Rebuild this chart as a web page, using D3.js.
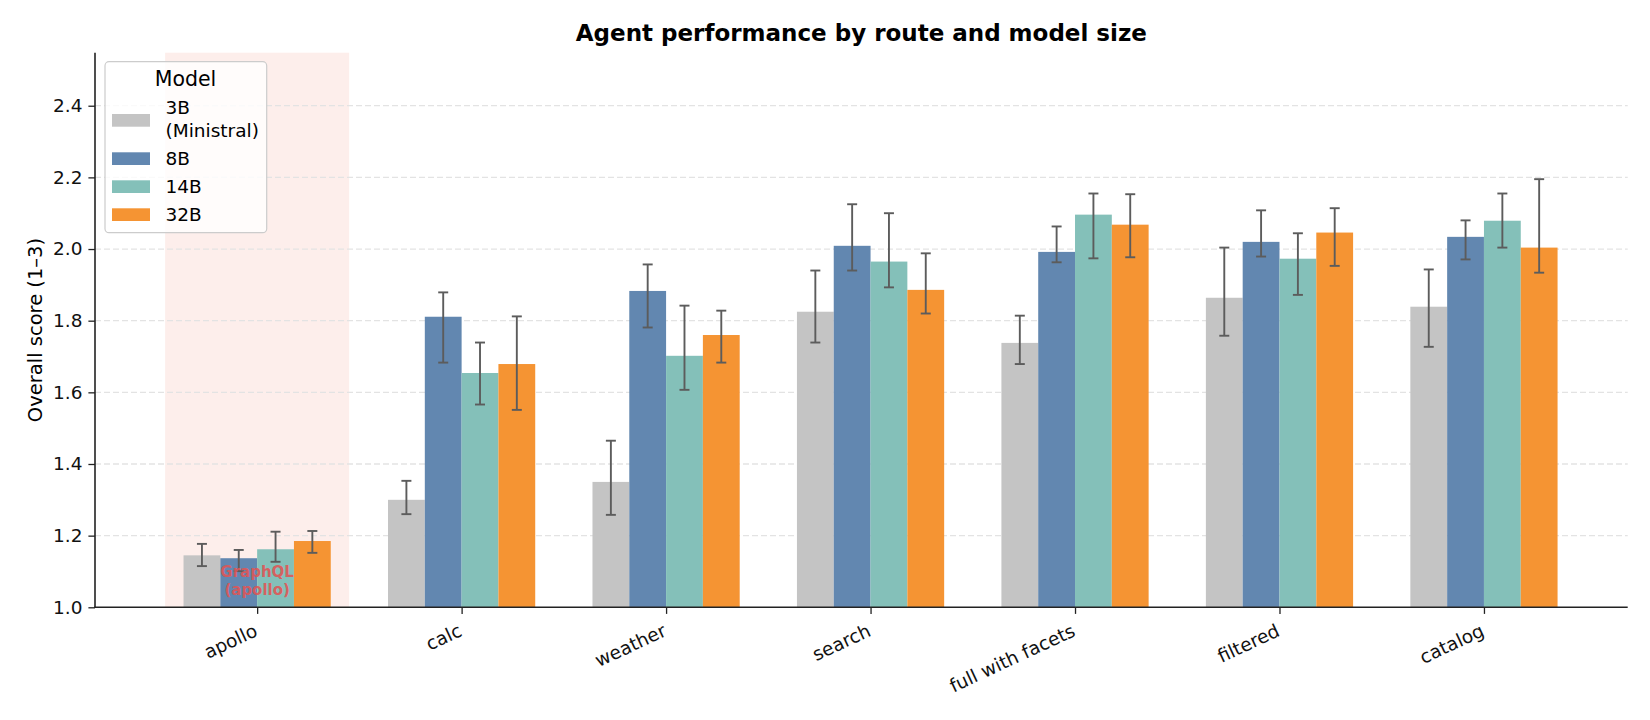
<!DOCTYPE html>
<html>
<head>
<meta charset="utf-8">
<script src="https://cdn.jsdelivr.net/npm/d3@7"></script>
<style>
  body { margin: 0; background: #fff; }
  svg { font-family: "DejaVu Sans", sans-serif; }
</style>
</head>
<body>
<svg id="chart" width="1650" height="720"></svg>
<script>
var routes = ["apollo", "calc", "weather", "search", "full with facets", "filtered", "catalog"];
var models = ["3B", "8B", "14B", "32B"];
var modelLabels = [["3B", "(Ministral)"], ["8B"], ["14B"], ["32B"]];
var modelColors = ["#c4c4c4", "#6287b0", "#84c0b9", "#f59433"];
var yTicks = [1.0, 1.2, 1.4, 1.6, 1.8, 2.0, 2.2, 2.4];

// mean score and error bar ends, one list per model, in route order
var mean3B = [1.145, 1.300, 1.350, 1.825, 1.738, 1.864, 1.839];
var low3B = [1.115, 1.260, 1.258, 1.739, 1.679, 1.758, 1.727];
var high3B = [1.177, 1.353, 1.465, 1.940, 1.814, 2.004, 1.943];

var mean8B = [1.137, 1.811, 1.883, 2.009, 1.992, 2.020, 2.034];
var low8B = [1.101, 1.683, 1.781, 1.940, 1.963, 1.979, 1.971];
var high8B = [1.160, 1.879, 1.957, 2.125, 2.063, 2.108, 2.080];

var mean14B = [1.162, 1.654, 1.702, 1.965, 2.096, 1.973, 2.079];
var low14B = [1.127, 1.566, 1.607, 1.893, 1.974, 1.872, 2.004];
var high14B = [1.211, 1.739, 1.842, 2.100, 2.155, 2.044, 2.155];

var mean32B = [1.185, 1.679, 1.760, 1.886, 2.068, 2.046, 2.004];
var low32B = [1.152, 1.551, 1.683, 1.820, 1.977, 1.953, 1.934];
var high32B = [1.213, 1.812, 1.828, 1.988, 2.153, 2.114, 2.195];

var highlightRoute = "apollo";
var highlightText = ["GraphQL", "(apollo)"];

var means = [mean3B, mean8B, mean14B, mean32B];
var lows = [low3B, low8B, low14B, low32B];
var highs = [high3B, high8B, high14B, high32B];

var rows = [];
models.forEach(function (m, mi) {
    routes.forEach(function (r, ri) {
        rows.push({ model: m, mi: mi, route: r, ri: ri, mean: means[mi][ri], low: lows[mi][ri], high: highs[mi][ri] });
    });
});

var plotLeft = 95, plotRight = 1627.7, plotTop = 52.7, plotBottom = 607.3;
var barW = 0.18;

var x = d3.scaleLinear().domain([-0.793, 6.703]).range([plotLeft, plotRight]);
var y = d3.scaleLinear().domain([1.0, 2.548]).range([plotBottom, plotTop]);

var svg = d3.select("#chart");

// highlighted route band
var hi = routes.indexOf(highlightRoute);
svg.append("rect")
    .attr("x", x(hi - 0.45)).attr("y", plotTop)
    .attr("width", x(hi + 0.45) - x(hi - 0.45)).attr("height", plotBottom - plotTop)
    .attr("fill", "#fdeeeb");

// grid
svg.append("g").selectAll("line").data(yTicks.slice(1)).enter().append("line")
    .attr("x1", plotLeft).attr("x2", plotRight)
    .attr("y1", function (d) { return y(d); }).attr("y2", function (d) { return y(d); })
    .attr("stroke", "#e3e3e3").attr("stroke-width", 1.3).attr("stroke-dasharray", "6,3");

// bars
svg.append("g").selectAll("rect").data(rows).enter().append("rect")
    .attr("x", function (d) { return x(d.ri + (d.mi - 1.5) * barW - barW / 2); })
    .attr("width", function () { return x(barW) - x(0); })
    .attr("y", function (d) { return y(d.mean); })
    .attr("height", function (d) { return y(1.0) - y(d.mean); })
    .attr("fill", function (d) { return modelColors[d.mi]; });

// error bars
var err = svg.append("g").attr("stroke", "#5c5c5c").attr("stroke-width", 1.9);
rows.forEach(function (d) {
    var cx = x(d.ri + (d.mi - 1.5) * barW);
    err.append("line").attr("x1", cx).attr("x2", cx).attr("y1", y(d.low)).attr("y2", y(d.high));
    err.append("line").attr("x1", cx - 5).attr("x2", cx + 5).attr("y1", y(d.low)).attr("y2", y(d.low));
    err.append("line").attr("x1", cx - 5).attr("x2", cx + 5).attr("y1", y(d.high)).attr("y2", y(d.high));
});

// note inside the band
svg.append("g").selectAll("text").data(highlightText).enter().append("text")
    .attr("x", x(hi)).attr("y", function (d, i) { return 576.5 + i * 18; })
    .attr("text-anchor", "middle").attr("font-size", 15).attr("font-weight", "bold")
    .attr("fill", "#e05555").attr("fill-opacity", 0.9)
    .text(String);

// axes
var yAxis = d3.axisLeft(y).tickValues(yTicks).tickFormat(d3.format(".1f")).tickSize(6.6).tickPadding(6);
var yg = svg.append("g").attr("transform", "translate(" + plotLeft + ",0)").call(yAxis);
yg.select(".domain").remove();
yg.selectAll(".tick line").attr("stroke", "#222").attr("stroke-width", 1.3);
yg.selectAll(".tick text").attr("font-size", 18.5).attr("fill", "#111").attr("font-family", "DejaVu Sans");

var xAxis = d3.axisBottom(x).tickValues(d3.range(routes.length)).tickFormat(function (i) { return routes[i]; }).tickSize(6.6);
var xg = svg.append("g").attr("transform", "translate(0," + plotBottom + ")").call(xAxis);
xg.select(".domain").remove();
xg.selectAll(".tick line").attr("stroke", "#222").attr("stroke-width", 1.3);
xg.selectAll(".tick text")
    .attr("font-size", 18.5).attr("fill", "#111").attr("font-family", "DejaVu Sans")
    .attr("text-anchor", "end").attr("dy", null).attr("y", null)
    .attr("transform", "translate(1,28) rotate(-25)");

svg.append("line").attr("x1", plotLeft).attr("x2", plotLeft).attr("y1", plotTop).attr("y2", plotBottom + 0.8)
    .attr("stroke", "#222").attr("stroke-width", 1.6);
svg.append("line").attr("x1", plotLeft - 0.8).attr("x2", plotRight).attr("y1", plotBottom).attr("y2", plotBottom)
    .attr("stroke", "#222").attr("stroke-width", 1.6);

// labels
svg.append("text").attr("x", (plotLeft + plotRight) / 2).attr("y", 41)
    .attr("text-anchor", "middle").attr("font-size", 23).attr("font-weight", "bold")
    .text("Agent performance by route and model size");

svg.append("text").attr("transform", "translate(41.5," + (plotTop + plotBottom) / 2 + ") rotate(-90)")
    .attr("text-anchor", "middle").attr("font-size", 19.5)
    .text("Overall score (1–3)");

// legend
var lg = svg.append("g");
lg.append("rect").attr("x", 105).attr("y", 61.7).attr("width", 161.7).attr("height", 171)
    .attr("rx", 4).attr("fill", "#fff").attr("fill-opacity", 0.8)
    .attr("stroke", "#cccccc").attr("stroke-width", 1.2);
lg.append("text").attr("x", 185.5).attr("y", 86).attr("text-anchor", "middle")
    .attr("font-size", 20.5).text("Model");

var baselines = [114.3, 165, 193, 221];
var patchY = [114, 152.3, 180.3, 208.3];
modelLabels.forEach(function (lines, i) {
    lg.append("rect").attr("x", 112).attr("y", patchY[i]).attr("width", 38).attr("height", 12.7)
        .attr("fill", modelColors[i]);
    lines.forEach(function (t, j) {
        lg.append("text").attr("x", 165.5).attr("y", baselines[i] + j * 22.4)
            .attr("font-size", 18.5).text(t);
    });
});
</script>
</body>
</html>
